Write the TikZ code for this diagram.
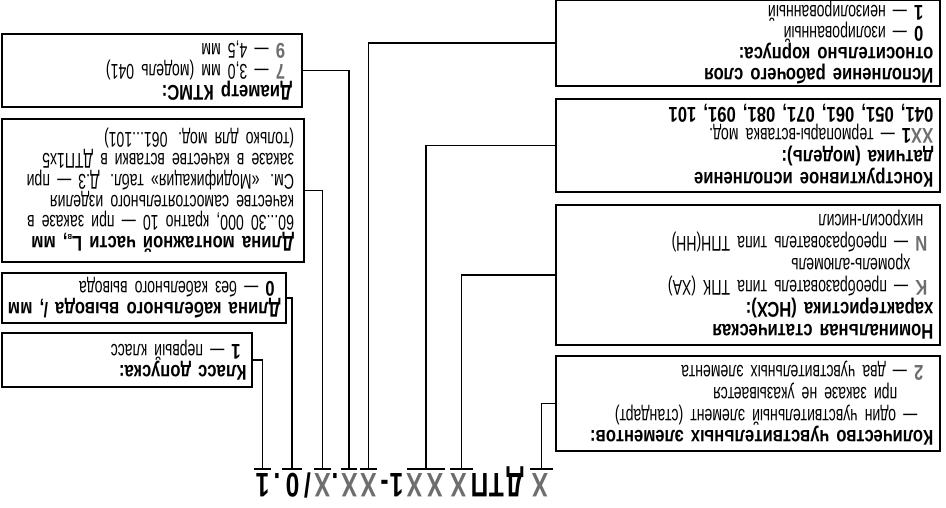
\documentclass[tikz,border=0pt]{standalone}
\usepackage{fontspec}
\setmainfont{Liberation Sans}[FakeStretch=0.66, BoldFont={Liberation Sans Bold}, BoldFeatures={FakeStretch=0.78}]
\newfontfamily\codefont{Liberation Sans}[FakeStretch=0.72]
\usetikzlibrary{positioning}
\definecolor{vargray}{HTML}{6E6E6E}
\newlength{\pxu}
\setlength{\pxu}{0.75pt}
\newcommand{\opt}[1]{\textbf{\textcolor{vargray}{#1}}}
\newcommand{\ind}[1]{\hspace*{#1\pxu}}
\newcommand{\jline}[1]{\makebox[\linewidth][s]{#1}}
\newcommand{\slsh}{/}

\begin{document}
\begin{tikzpicture}[
  x=0.75pt, y=0.75pt,
  box/.style={draw=black, line width=1.5pt, anchor=north west, align=left, inner xsep=5pt, inner ysep=0pt, font=\fontsize{16}{#1}\selectfont},
  link/.style={line width=1.2pt},
  tick/.style={line width=1.5pt},
  code/.style={anchor=base, inner sep=0pt, font=\codefont\bfseries\fontsize{25.5}{25.5}\selectfont}
]
\useasboundingbox (0,0) rectangle (946,507);
\clip (0,0) rectangle (946,507);

% the whole scheme is printed upside down
\begin{scope}[rotate around={180:(473,253.5)}, transform shape]

% Order code
\foreach \p/\g/\c [count=\i] in {406/X/vargray, 431/Д/black, 449.5/Т/black, 466.5/П/black,
    487.5/X/vargray, 511/X/vargray, 531.5/X/vargray, 549.5/1/black, 561.5/-/black,
    577.5/X/vargray, 596.5/X/vargray, 611/./black, 623.5/X/vargray, 638.5/\slsh/black,
    653.5/0/black, 669/./black, 683.5/1/black}
  \node[code, text=\c] (c\i) at (\p,473) {\g};

% Marks under the code positions
\foreach \n/\l/\r in {kol/393/416, nsx/473/496, mod/501/539, sloj/569/586,
    diam/589/605, mont/615/632, kab/644/664, kl/675/692} {
  \draw[tick] (\l,469) -- (\r,469);
  \coordinate (t\n) at ({(\l+\r)/2},469);
}

% Left column boxes
\node[box=16.3pt, text width=278pt, minimum height=71.25pt] (kolvo) at (5,452) {%
  \textbf{Количество чувствительных элементов:}\\
  \ind{16}— один чувствительный элемент (стандарт)\\
  \ind{36}при заказе не указывается\\
  \ind{10}\opt{2} — два чувствительных элемента};
\node[box=16.5pt, text width=278pt, minimum height=105pt] (nsx) at (5,346) {%
  \textbf{Номинальная статическая}\\
  \textbf{характеристика (НСХ):}\\
  \ind{6}\opt{K} — преобразователь типа ТПК (ХА)\\
  \ind{23}хромель-алюмель\\
  \ind{6}\opt{N} — преобразователь типа ТПН(НН)\\
  \ind{10}нихросил-нисил};
\node[box=16.3pt, text width=278pt, minimum height=69.75pt] (konstr) at (5,193) {%
  \textbf{Конструктивное исполнение}\\
  \textbf{датчика (модель):}\\
  \opt{XX}\textbf{1} — термопары-вставка мод.\\
  \textbf{041, 051, 061, 071, 081, 091, 101}};
\node[box=15.75pt, text width=278pt, minimum height=64.5pt] (sloj) at (5,87) {%
  \textbf{Исполнение рабочего слоя}\\
  \textbf{относительно корпуса:}\\
  \ind{10}\textbf{0} — изолированный\\
  \ind{10}\textbf{1} — неизолированный};

% Right column boxes
\node[box=15.5pt, inner xsep=7.5pt, text width=210pt, minimum height=54.75pt] (diam) at (643,108) {%
  \textbf{Диаметр КТМС:}\\
  \ind{7}\opt{7} — 3,0 мм (модель 041)\\
  \ind{7}\opt{9} — 4,5 мм};
\node[box=15.6pt, inner xsep=7.5pt, text width=211.5pt, minimum height=107.25pt] (montazh) at (641,263) {%
  \textbf{Длина монтажной части L\raisebox{-0.12em}{\scriptsize в}, мм}\\
  \jline{60...30 000, кратно 10 — при заказе в}\\
  \jline{качестве самостоятельного изделия}\\
  \jline{См. «Модификация» табл. Д.3 — при}\\
  \jline{заказе в качестве вставки в ДТП1х5}\\
  (только для мод. 061...101)};
\node[box=13.5pt, inner xsep=4pt, text width=205pt, minimum height=37.5pt] (kabel) at (659,324) {%
  \textbf{Длина кабельного вывода \textit{l}, мм}\\
  \ind{6}\textbf{0} — без кабельного вывода};
\node[box=12.5pt, inner xsep=4pt, text width=179.5pt, minimum height=40.5pt] (klass) at (693,388) {%
  \textbf{Класс допуска:}\\
  \ind{6}\textbf{1} — первый класс};

% Connectors from the code to the boxes
\draw[link] (tkol) |- (kolvo.east);
\draw[link] (tnsx) |- (nsx.east);
\draw[link] (tmod) |- (konstr.east);
\draw[link] (tsloj) |- (sloj.east);
\draw[link] (tdiam) |- (diam.west);
\draw[link] (tmont) |- (montazh.west);
\draw[link] (tkab) |- (kabel.west);
\draw[link] (tkl) |- (klass.west);

\end{scope}
\end{tikzpicture}
\end{document}
